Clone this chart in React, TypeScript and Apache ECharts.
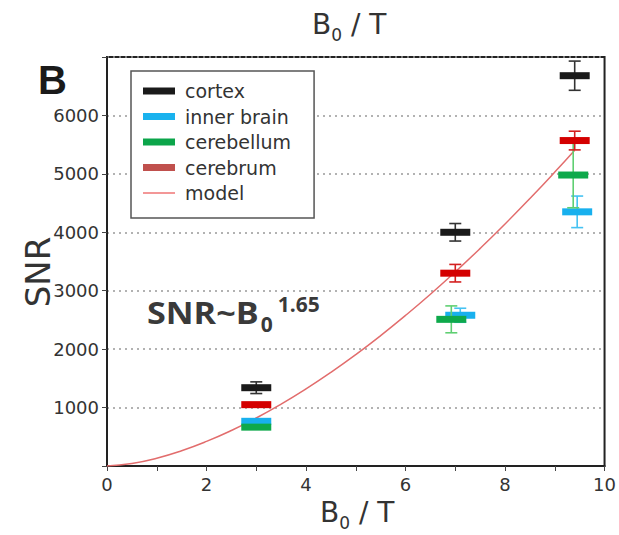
import React, { useEffect, useRef } from "react";
import * as echarts from "echarts";

// ---- data ----
const seriesNames = ["cortex", "inner brain", "cerebellum", "cerebrum"];
const cortexB = [3, 7, 9.4];
const cortexSNR = [1340, 4000, 6680];
const cortexErr = [100, 150, 250];
const innerB = [3, 7.1, 9.45];
const innerSNR = [765, 2580, 4350];
const innerErr = [0, 120, 270];
const cerebellumB = [3, 6.92, 9.37];
const cerebellumSNR = [665, 2510, 4980];
const cerebellumErr = [0, 230, 560];
const cerebrumB = [3, 7, 9.4];
const cerebrumSNR = [1050, 3300, 5570];
const cerebrumErr = [30, 150, 160];
const modelB = [0, 0.5, 1, 1.5, 2, 2.5, 3, 3.5, 4, 4.5, 5, 5.5, 6, 6.5, 7, 7.5, 8, 8.5, 9, 9.4];
const modelSNR = [0, 43, 134, 262, 421, 608, 821, 1059, 1320, 1603, 1907, 2232, 2577, 2940, 3323, 3724, 4142, 4578, 5030, 5404];
const xTicks = [0, 2, 4, 6, 8, 10];
const yTicks = [1000, 2000, 3000, 4000, 5000, 6000];

const barColors = ["#1a1a1a", "#18b0ee", "#0ea94b", "#d40000"];
const errColors = ["#333333", "#45c2f2", "#5fcf72", "#d42020"];
const legendColors = ["#1a1a1a", "#19b2ee", "#0ba54a", "#c0504d"];

const FONT = "'DejaVu Sans', sans-serif";
const BOLDFONT = "'Open Sans', 'Noto Sans', sans-serif";

function measure(text: string, font: string): number {
  const ctx = document.createElement("canvas").getContext("2d");
  if (!ctx) return text.length * 10;
  ctx.font = font;
  return ctx.measureText(text).width;
}

function makeErrSeries(idx: number, xs: number[], ys: number[], es: number[]) {
  return {
    name: seriesNames[idx],
    type: "custom",
    z: 3 + idx,
    data: xs.map((x, i) => [x, ys[i], es[i]]),
    encode: { x: 0, y: 1 },
    itemStyle: { color: legendColors[idx] },
    renderItem: (params: any, api: any) => {
      const x = api.value(0);
      const y = api.value(1);
      const e = api.value(2);
      const c = api.coord([x, y]);
      const top = api.coord([x, y + e]);
      const bot = api.coord([x, y - e]);
      const children: any[] = [];
      if (e > 0) {
        const ls = { stroke: errColors[idx], lineWidth: 1.6 };
        children.push({ type: "line", shape: { x1: c[0], y1: top[1], x2: c[0], y2: bot[1] }, style: ls });
        children.push({ type: "line", shape: { x1: c[0] - 6, y1: top[1], x2: c[0] + 6, y2: top[1] }, style: ls });
        children.push({ type: "line", shape: { x1: c[0] - 6, y1: bot[1], x2: c[0] + 6, y2: bot[1] }, style: ls });
      }
      children.push({
        type: "rect",
        shape: { x: c[0] - 15, y: c[1] - 3.5, width: 30, height: 7 },
        style: { fill: barColors[idx] },
      });
      return { type: "group", children };
    },
  };
}

// "B0 / T" with subscript, built from measured pieces
function axisTitle(left: number, cy: number): any[] {
  const mainSize = 28;
  const subSize = 17;
  const wB = measure("B", `${mainSize}px "DejaVu Sans"`);
  const wSub = measure("0", `${subSize}px "DejaVu Sans"`);
  const common = { fontFamily: FONT, fill: "#333", verticalAlign: "middle", align: "left" };
  return [
    { type: "text", x: left, y: cy, style: { ...common, text: "B", fontSize: mainSize } },
    { type: "text", x: left + wB, y: cy + 11, style: { ...common, text: "0", fontSize: subSize } },
    { type: "text", x: left + wB + wSub, y: cy, style: { ...common, text: " / T", fontSize: mainSize } },
  ];
}

function powerLabel(left: number, cy: number): any[] {
  const mainSize = 30;
  const smallSize = 21;
  const sx = 1.14;
  const wMain = measure("SNR~B", `bold ${mainSize}px "Open Sans"`) * sx;
  const wSub = measure("0", `bold ${smallSize}px "Open Sans"`);
  const common = { fontFamily: BOLDFONT, fontWeight: "bold", fill: "#3a3a3a", verticalAlign: "middle", align: "left" };
  return [
    { type: "text", z: 10, x: left, y: cy, scaleX: sx, style: { ...common, text: "SNR~B", fontSize: mainSize } },
    { type: "text", z: 10, x: left + wMain + 2, y: cy + 12, style: { ...common, text: "0", fontSize: smallSize } },
    { type: "text", z: 10, x: left + wMain + 2 + wSub + 5, y: cy - 8, style: { ...common, text: "1.65", fontSize: smallSize } },
  ];
}

export default function App() {
  const ref = useRef<HTMLDivElement>(null);
  useEffect(() => {
    if (!ref.current) return;
    const chart = echarts.init(ref.current, null, { renderer: "svg" });
    const option: any = {
      animation: false,
      backgroundColor: "#ffffff",
      textStyle: { fontFamily: FONT },
      grid: {
        left: 107,
        right: 12,
        top: 57,
        bottom: 69,
        show: true,
        borderColor: "#222",
        borderWidth: 2,
        backgroundColor: "transparent",
      },
      legend: {
        orient: "vertical",
        left: 131,
        top: 71,
        padding: [10, 23, 15, 12],
        itemGap: 5.5,
        itemWidth: 32,
        itemHeight: 7,
        borderColor: "#555",
        borderWidth: 1.5,
        borderRadius: 0,
        backgroundColor: "#fff",
        textStyle: { fontSize: 19, lineHeight: 20, color: "#333", fontFamily: FONT, padding: [0, 0, 0, 5] },
        data: [
          ...seriesNames.map((n, i) => ({ name: n, icon: "rect", itemStyle: { color: legendColors[i] } })),
          { name: "model", icon: "path://M0,0 L32,0 L32,1.4 L0,1.4 Z", itemStyle: { color: "#ee6a6a" } },
        ],
      },
      xAxis: {
        type: "value",
        min: 0,
        max: 10,
        interval: 1,
        axisLine: { show: true, lineStyle: { color: "#222", width: 2 } },
        axisTick: { show: true, length: 5, lineStyle: { color: "#444", width: 1 } },
        axisLabel: {
          fontSize: 18,
          color: "#333",
          fontFamily: FONT,
          margin: 9,
          formatter: (v: number) => (xTicks.includes(v) ? String(v) : ""),
        },
        splitLine: { show: false },
      },
      yAxis: {
        type: "value",
        min: 0,
        max: 7000,
        interval: 1000,
        axisLine: { show: true, lineStyle: { color: "#222", width: 2 } },
        axisTick: { show: true, length: 5, lineStyle: { color: "#444", width: 1 } },
        axisLabel: {
          fontSize: 18,
          color: "#333",
          fontFamily: FONT,
          margin: 8,
          formatter: (v: number) => (yTicks.includes(v) ? String(v) : ""),
        },
        splitLine: { show: true, lineStyle: { color: "#999", width: 1.5, type: [2, 4] } },
      },
      graphic: [
        ...axisTitle(312, 24),
        ...axisTitle(320, 512),
        {
          type: "text",
          left: 38,
          top: 60,
          style: { text: "B", fontSize: 40, fontWeight: "bold", fontFamily: "'Liberation Sans', Arial, sans-serif", fill: "#1a1a1a" },
        },
        {
          type: "text",
          x: 38,
          y: 272,
          rotation: Math.PI / 2,
          style: {
            text: "SNR",
            fontSize: 34,
            fontFamily: FONT,
            fill: "#333",
            align: "center",
            verticalAlign: "middle",
          },
        },
        ...powerLabel(147, 312),
      ],
      series: [
        {
          name: "model",
          type: "line",
          data: modelB.map((b, i) => [b, modelSNR[i]]),
          smooth: true,
          showSymbol: false,
          symbol: "none",
          z: 2,
          silent: true,
          itemStyle: { color: "#ee6a6a" },
          lineStyle: { color: "#e26d6d", width: 1.5 },
        },
        makeErrSeries(2, cerebellumB, cerebellumSNR, cerebellumErr),
        makeErrSeries(1, innerB, innerSNR, innerErr),
        makeErrSeries(3, cerebrumB, cerebrumSNR, cerebrumErr),
        makeErrSeries(0, cortexB, cortexSNR, cortexErr),
      ],
    };
    chart.setOption(option);
    return () => chart.dispose();
  }, []);
  return <div ref={ref} style={{ width: 619, height: 535, position: "absolute", left: 0, top: 0 }} />;
}
